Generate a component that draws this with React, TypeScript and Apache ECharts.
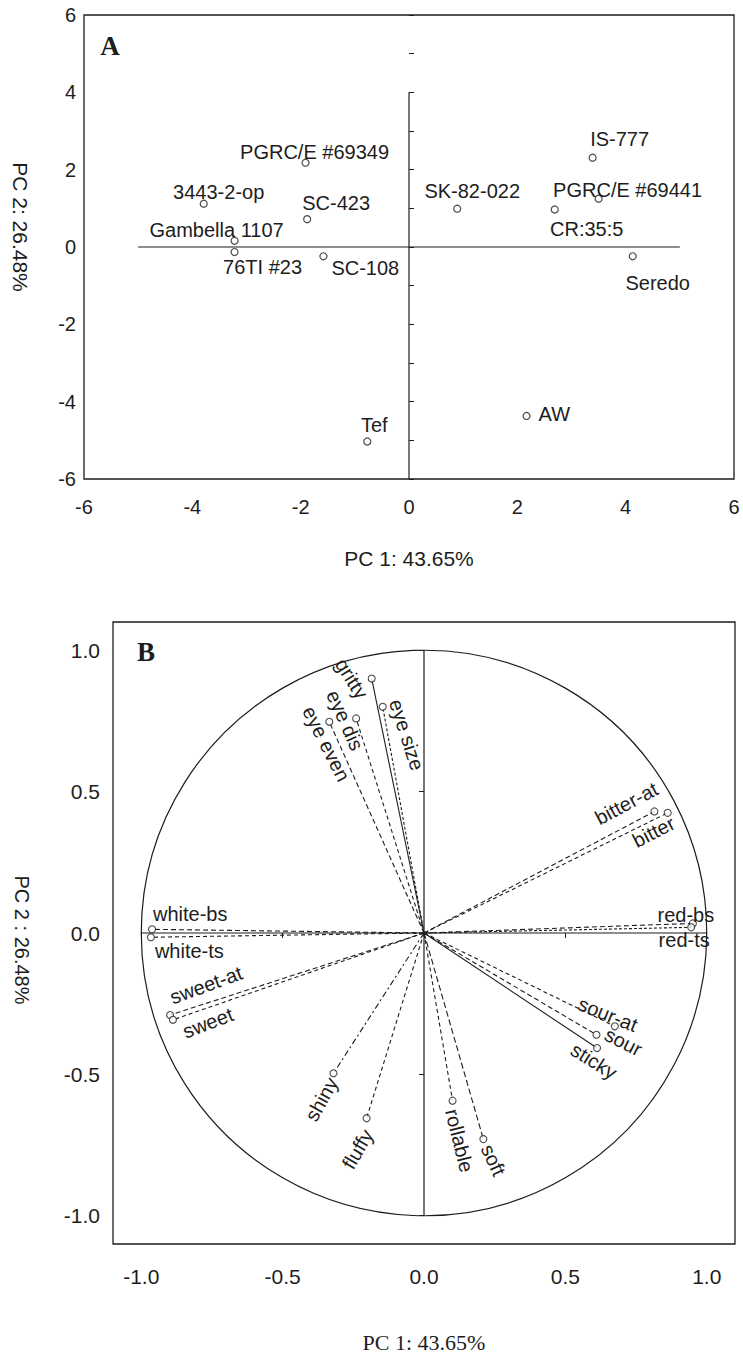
import React, { useEffect, useRef } from "react";
import * as echarts from "echarts";

// ---- Panel A: sample scores on the first two principal components ----
const sampleNames = [
  "PGRC/E #69349",
  "3443-2-op",
  "SC-423",
  "Gambella 1107",
  "76TI #23",
  "SC-108",
  "SK-82-022",
  "IS-777",
  "PGRC/E #69441",
  "CR:35:5",
  "Seredo",
  "Tef",
  "AW",
];
const samplePC1 = [-1.91, -3.79, -1.88, -3.22, -3.22, -1.58, 0.89, 3.39, 3.5, 2.69, 4.13, -0.77, 2.17];
const samplePC2 = [2.18, 1.12, 0.72, 0.16, -0.13, -0.24, 0.99, 2.31, 1.25, 0.97, -0.24, -5.03, -4.37];
const scoreAxisTicks = [-6, -4, -2, 0, 2, 4, 6];
const scoreCrossH = [[-5, 0], [5, 0]];
const scoreCrossV = [[0, -6], [0, 4]];

// ---- Panel B: attribute loadings ----
const attributeNames = [
  "gritty",
  "eye size",
  "eye dis",
  "eye even",
  "bitter-at",
  "bitter",
  "red-bs",
  "red-ts",
  "white-bs",
  "white-ts",
  "sweet-at",
  "sweet",
  "sour-at",
  "sour",
  "sticky",
  "shiny",
  "fluffy",
  "rollable",
  "soft",
];
const attributePC1 = [-0.185, -0.146, -0.24, -0.335, 0.815, 0.862, 0.951, 0.945, -0.962, -0.966, -0.898, -0.888, 0.675, 0.61, 0.612, -0.32, -0.203, 0.101, 0.21];
const attributePC2 = [0.9, 0.8, 0.759, 0.747, 0.43, 0.425, 0.034, 0.02, 0.013, -0.015, -0.29, -0.307, -0.33, -0.36, -0.407, -0.496, -0.655, -0.593, -0.729];
const loadingAxisTicks = [-1.0, -0.5, 0.0, 0.5, 1.0];
const loadingCrossH = [[-1, 0], [1, 0]];
const loadingCrossV = [[0, -1], [0, 1]];

// ---- styling ----
const INK = "#1d1d1d";
const SANS = "'Liberation Sans', Arial, Helvetica, sans-serif";
const SERIF = "'Liberation Serif', 'Times New Roman', Times, serif";

// label placement next to each score point: [dx, dy, align]
const scoreLabelLayout: [number, number, string][] = [
  [9, -11, "center"],
  [15, -12, "center"],
  [29, -16, "center"],
  [-18, -11, "center"],
  [28, 15, "center"],
  [8, 12, "left"],
  [15, -18, "center"],
  [27, -19, "center"],
  [29, -9, "center"],
  [32, 20, "center"],
  [25, 27, "center"],
  [7, -16, "center"],
  [12, -2, "left"],
];

// label placement next to each loading tip: [dx, dy, rotation in degrees, align]
const loadingLabelLayout: [number, number, number, string][] = [
  [-20, 0, -58, "center"],
  [24, 28, -72, "center"],
  [-11, 2, -66, "center"],
  [-3, 22, -63, "center"],
  [-28, -8, 28, "center"],
  [-14, 19, 27, "center"],
  [-7, -8, 0, "center"],
  [-7, 13, 0, "center"],
  [1, -15, 0, "left"],
  [4, 14, 0, "left"],
  [36, -30, 20, "center"],
  [35, 3, 21, "center"],
  [-7, -12, -22, "center"],
  [27, 7, -27, "center"],
  [-3, 13, -32, "center"],
  [-12, 26, 61, "center"],
  [-9, 31, 60, "center"],
  [7, 40, -76, "center"],
  [10, 21, -65, "center"],
];

// dash pattern of each loading vector
const loadingDash: (number[] | "solid")[] = [
  "solid",
  [3, 2],
  [4, 3],
  [5, 3],
  [5, 3],
  [4, 3],
  [5, 3],
  [3, 2],
  [5, 3],
  [4, 3],
  [5, 3],
  [4, 3],
  [4, 3],
  [5, 3],
  "solid",
  [6, 3, 2, 3],
  [4, 3],
  [4, 3],
  [6, 3],
];

function crossLine(data: number[][], xi: number, yi: number) {
  return {
    type: "line",
    xAxisIndex: xi,
    yAxisIndex: yi,
    data,
    symbol: "none",
    silent: true,
    lineStyle: { color: INK, width: 1.2 },
    z: 1,
  };
}

function buildOption() {
  const frame = { show: true, borderColor: INK, borderWidth: 1.3, backgroundColor: "transparent" };
  const hidden = { show: false };
  const series: any[] = [
    crossLine(scoreCrossH, 0, 0),
    crossLine(scoreCrossV, 0, 0),
    crossLine(loadingCrossH, 1, 1),
    crossLine(loadingCrossV, 1, 1),
  ];
  attributeNames.forEach((name, i) => {
    series.push({
      type: "line",
      name,
      xAxisIndex: 1,
      yAxisIndex: 1,
      data: [
        [0, 0],
        [attributePC1[i], attributePC2[i]],
      ],
      symbol: "none",
      silent: true,
      lineStyle: { color: INK, width: 1.1, type: loadingDash[i] },
      z: 2,
    });
  });
  series.push({
    type: "scatter",
    xAxisIndex: 0,
    yAxisIndex: 0,
    data: samplePC1.map((x, i) => [x, samplePC2[i]]),
    symbol: "circle",
    symbolSize: 7,
    itemStyle: { color: "#fff", borderColor: INK, borderWidth: 1.2 },
    z: 3,
  });
  series.push({
    type: "scatter",
    xAxisIndex: 1,
    yAxisIndex: 1,
    data: attributePC1.map((x, i) => [x, attributePC2[i]]),
    symbol: "circle",
    symbolSize: 7,
    itemStyle: { color: "#fff", borderColor: INK, borderWidth: 1.1 },
    z: 3,
  });

  return {
    animation: false,
    backgroundColor: "#fff",
    grid: [
      { ...frame, left: 84, top: 15, width: 650, height: 464 },
      { ...frame, left: 113, top: 622, width: 622, height: 622 },
    ],
    xAxis: [
      {
        gridIndex: 0,
        type: "value",
        min: -6,
        max: 6,
        interval: 2,
        axisLine: hidden,
        axisTick: hidden,
        splitLine: hidden,
        axisLabel: { customValues: scoreAxisTicks, fontFamily: SANS, fontSize: 20, color: INK, margin: 18 },
      },
      {
        gridIndex: 1,
        type: "value",
        min: -1.1,
        max: 1.1,
        axisLine: hidden,
        axisTick: hidden,
        splitLine: hidden,
        axisLabel: {
          customValues: loadingAxisTicks,
          formatter: (v: number) => v.toFixed(1),
          fontFamily: SANS,
          fontSize: 21,
          color: INK,
          margin: 22,
        },
      },
      {
        gridIndex: 1,
        type: "value",
        position: "top",
        min: -1.1,
        max: 1.1,
        axisLine: hidden,
        splitLine: hidden,
        axisLabel: hidden,
        axisTick: { show: true, inside: true, length: 5, customValues: loadingAxisTicks, lineStyle: { color: INK } },
      },
    ],
    yAxis: [
      {
        gridIndex: 0,
        type: "value",
        min: -6,
        max: 6,
        interval: 2,
        axisLine: hidden,
        splitLine: hidden,
        axisTick: { show: true, inside: true, length: 5, lineStyle: { color: INK } },
        minorTick: { show: true, splitNumber: 2, length: 5, lineStyle: { color: INK } },
        axisLabel: {
          fontFamily: SANS,
          fontSize: 20,
          color: INK,
          margin: 8,
          padding: [14, 0, 0, 0],
        },
      },
      {
        gridIndex: 1,
        type: "value",
        min: -1.1,
        max: 1.1,
        axisLine: hidden,
        axisTick: hidden,
        splitLine: hidden,
        axisLabel: {
          customValues: loadingAxisTicks,
          formatter: (v: number) => v.toFixed(1),
          fontFamily: SANS,
          fontSize: 21,
          color: INK,
          margin: 13,
          padding: [18, 0, 0, 0],
        },
      },
      {
        gridIndex: 1,
        type: "value",
        position: "right",
        min: -1.1,
        max: 1.1,
        axisLine: hidden,
        splitLine: hidden,
        axisLabel: hidden,
        axisTick: { show: true, inside: true, length: 5, customValues: loadingAxisTicks, lineStyle: { color: INK } },
      },
    ],
    series,
  };
}

function textEl(text: string, x: number, y: number, font: string, align = "center", rotation = 0) {
  return {
    type: "text",
    x,
    y,
    rotation,
    z: 100,
    silent: true,
    style: { text, font, fill: INK, textAlign: align, textVerticalAlign: "middle" },
  };
}

export default function App() {
  const ref = useRef<HTMLDivElement>(null);

  useEffect(() => {
    if (!ref.current) return;
    const chart = echarts.init(ref.current, null, { renderer: "svg" });
    chart.setOption(buildOption() as any);

    const gA = { xAxisIndex: 0, yAxisIndex: 0 };
    const gB = { xAxisIndex: 1, yAxisIndex: 1 };
    const graphics: any[] = [];

    // sample labels
    sampleNames.forEach((name, i) => {
      const p = chart.convertToPixel(gA as any, [samplePC1[i], samplePC2[i]]) as number[];
      const [dx, dy, align] = scoreLabelLayout[i];
      graphics.push(textEl(name, p[0] + dx, p[1] + dy, `20px ${SANS}`, align));
    });

    // unit correlation circle
    const c0 = chart.convertToPixel(gB as any, [0, 0]) as number[];
    const c1 = chart.convertToPixel(gB as any, [1, 0]) as number[];
    graphics.push({
      type: "circle",
      z: 5,
      silent: true,
      shape: { cx: c0[0], cy: c0[1], r: c1[0] - c0[0] },
      style: { fill: "none", stroke: INK, lineWidth: 1.2 },
    });

    // attribute labels
    attributeNames.forEach((name, i) => {
      const p = chart.convertToPixel(gB as any, [attributePC1[i], attributePC2[i]]) as number[];
      const [dx, dy, deg, align] = loadingLabelLayout[i];
      graphics.push(textEl(name, p[0] + dx, p[1] + dy, `20px ${SANS}`, align, (deg * Math.PI) / 180));
    });

    // panel letters and axis titles
    graphics.push(textEl("A", 110, 46, `bold 27px ${SERIF}`));
    graphics.push(textEl("B", 146, 652, `bold 27px ${SERIF}`));
    graphics.push(textEl("PC 2: 26.48%", 20, 227, `21px ${SANS}`, "center", -Math.PI / 2));
    graphics.push(textEl("PC 1: 43.65%", 409, 558, `21px ${SANS}`));
    graphics.push(textEl("PC 2 : 26.48%", 22, 940, `20px ${SANS}`, "center", -Math.PI / 2));
    graphics.push(textEl("PC 1: 43.65%", 424, 1342, `22px ${SERIF}`));

    chart.setOption({ graphic: graphics });

    return () => chart.dispose();
  }, []);

  return (
    <div
      ref={ref}
      style={{ position: "fixed", left: 0, top: 0, width: 743, height: 1360, background: "#fff" }}
    />
  );
}
